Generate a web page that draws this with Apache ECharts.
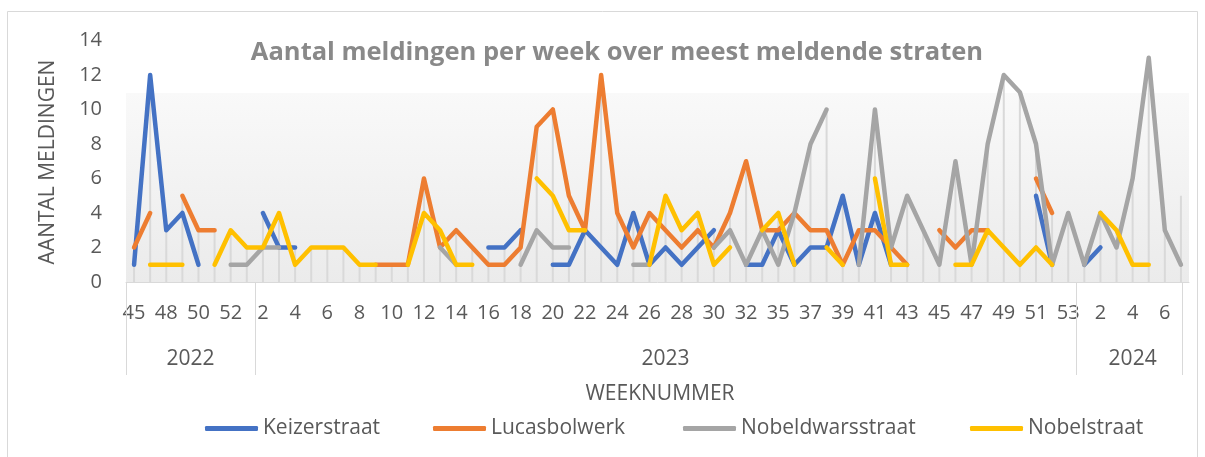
<!DOCTYPE html>
<html>
<head>
<meta charset="utf-8">
<script src="https://cdn.jsdelivr.net/npm/echarts@6/dist/echarts.min.js"></script>
<style>
html,body{margin:0;padding:0;background:#fff;}
#chart{width:1205px;height:457px;}
</style>
</head>
<body>
<div id="chart"></div>
<script>
// ---- data ----
const years = ['2022', '2023', '2024'];
const weeks2022 = [45, 46, 48, 49, 50, 51, 52, 53];
const weeks2023 = [2, 3, 4, 5, 6, 7, 8, 9, 10, 11, 12, 13, 14, 15, 16, 17, 18, 19, 20, 21, 22, 23, 24, 25, 26, 27, 28, 29, 30, 31, 32,
  33, 35, 36, 37, 38, 39, 40, 41, 42, 43, 44, 45, 46, 47, 48, 49, 50, 51, 52, 53];
const weeks2024 = [1, 2, 3, 4, 5, 6, 7];

const seriesNames = ['Keizerstraat', 'Lucasbolwerk', 'Nobeldwarsstraat', 'Nobelstraat'];

const keizerstraat = [1, 12, 3, 4, 1, null, null, null,
  4, 2, 2, null, null, null, null, null, null, null, null, null, null, null, 2, 2, 3, null, 1, 1, 3, 2, 1,
  4, 1, 2, 1, 2, 3, null, 1, 1, 3, 1, 2, 2, 5, 1, 4, 1, null, null, null, null, null, null, null, null, 5, 1, null,
  1, 2, null, null, null, null, 5];

const lucasbolwerk = [2, 4, null, 5, 3, 3, null, null,
  null, null, null, null, null, null, null, 1, 1, 1, 6, 2, 3, 2, 1, 1, 2, 9, 10, 5, 3, 12, 4,
  2, 4, 3, 2, 3, 2, 4, 7, 3, 3, 4, 3, 3, 1, 3, 3, 2, 1, null, 3, 2, 3, 3, null, null, 6, 4, null,
  null, null, null, null, null, null, null];

const nobeldwarsstraat = [null, null, null, null, null, null, 1, 1,
  2, 2, null, null, null, null, null, null, null, null, null, 2, 1, null, null, null, 1, 3, 2, 2, null, null, null,
  1, 1, null, null, null, 2, 3, 1, 3, 1, 4, 8, 10, null, 1, 10, 2, 5, 3, 1, 7, 1, 8, 12, 11, 8, 1, 4,
  1, 4, 2, 6, 13, 3, 1];

const nobelstraat = [null, 1, 1, 1, null, 1, 3, 2,
  2, 4, 1, 2, 2, 2, 1, 1, null, 1, 4, 3, 1, 1, null, null, null, 6, 5, 3, 3, null, null,
  null, 1, 5, 3, 4, 1, 2, null, 3, 4, 1, null, 2, 1, null, 6, 1, 1, null, null, 1, 1, 3, 2, 1, 2, 1, null,
  null, 4, 3, 1, 1, null, null];

const yTicks = [0, 2, 4, 6, 8, 10, 12, 14];
const titleText = 'Aantal meldingen per week over meest meldende straten';
const yName = 'AANTAL MELDINGEN';
const xName = 'WEEKNUMMER';

// ---- build ----
const groups = [
  { year: years[0], weeks: weeks2022 },
  { year: years[1], weeks: weeks2023 },
  { year: years[2], weeks: weeks2024 }
];
const categories = [];
groups.forEach(g => g.weeks.forEach(w => categories.push(g.year + '-' + w)));

const seriesData = [keizerstraat, lucasbolwerk, nobeldwarsstraat, nobelstraat];
const colors = ['#4472C4', '#ED7D31', '#A5A5A5', '#FFC000'];
const dropData = categories.map((c, i) => {
  const vals = seriesData.map(s => s[i]).filter(v => v !== null && v !== undefined);
  return vals.length ? Math.max.apply(null, vals) : null;
});

const FONT = 'Open Sans';
const TXT = '#595959';

const chart = echarts.init(document.getElementById('chart'), null, { renderer: 'canvas' });

const legendLefts = [205, 433, 683, 970];

const option = {
  animation: false,
  backgroundColor: '#ffffff',
  textStyle: { fontFamily: FONT },
  title: {
    text: titleText,
    left: 612,
    top: 35,
    textAlign: 'center',
    textStyle: { fontFamily: FONT, fontWeight: 'bold', fontSize: 25.5, color: '#898989' }
  },
  grid: {
    left: 126, right: 16, top: 40.5, bottom: 175,
    show: true, borderWidth: 0,
    backgroundColor: {
      type: 'linear', x: 0, y: 0, x2: 0, y2: 1,
      colorStops: [
        { offset: 0, color: '#ffffff' },
        { offset: 0.217, color: '#ffffff' },
        { offset: 0.217, color: '#f9f9f9' },
        { offset: 1, color: '#ebebeb' }
      ]
    }
  },
  legend: seriesNames.map((n, i) => ({
    data: [n],
    left: legendLefts[i],
    top: 418,
    padding: 0,
    icon: 'roundRect',
    itemWidth: 53,
    itemHeight: 5,
    selectedMode: false,
    textStyle: { fontFamily: FONT, fontSize: 21, color: TXT }
  })),
  xAxis: {
    type: 'category',
    data: categories,
    boundaryGap: true,
    axisLine: { show: true, lineStyle: { color: '#d9d9d9', width: 1 } },
    axisTick: { show: false },
    splitLine: { show: false },
    axisLabel: {
      interval: 1,
      formatter: v => v.split('-')[1],
      fontFamily: FONT, fontSize: 20, color: TXT, margin: 21
    }
  },
  yAxis: {
    type: 'value',
    min: yTicks[0], max: yTicks[yTicks.length - 1], interval: 2,
    axisLine: { show: false },
    axisTick: { show: false },
    splitLine: { show: false },
    axisLabel: { fontFamily: FONT, fontSize: 20, color: TXT, margin: 24 }
  },
  series: [
    {
      name: 'drop',
      type: 'bar',
      data: dropData,
      barWidth: 2,
      silent: true,
      itemStyle: { color: '#d9d9d9' }
    }
  ].concat(seriesNames.map((n, i) => ({
    name: n,
    type: 'line',
    data: seriesData[i],
    showSymbol: false,
    symbol: 'none',
    connectNulls: false,
    color: colors[i],
    lineStyle: { color: colors[i], width: 4.5, cap: 'round', join: 'round' }
  })))
};

chart.setOption(option);

// group (year) boxes and axis names
const px = i => chart.convertToPixel({ xAxisIndex: 0 }, categories[i]);
const y0 = chart.convertToPixel({ yAxisIndex: 0 }, 0);
const bw = (px(categories.length - 1) - px(0)) / (categories.length - 1);
const graphics = [];
graphics.push({
  type: 'rect', z: 100, silent: true,
  shape: { x: 7.5, y: 11.5, width: 1190, height: 460 },
  style: { fill: null, stroke: '#d9d9d9', lineWidth: 1 }
});
let start = 0;
const bounds = [px(0) - bw / 2];
groups.forEach((g, gi) => {
  const end = start + g.weeks.length - 1;
  const rightEdge = gi < groups.length - 1 ? (px(end) + px(end + 1)) / 2 : px(end) + bw / 2;
  const leftEdge = bounds[bounds.length - 1];
  bounds.push(rightEdge);
  graphics.push({
    type: 'text', z: 100, silent: true,
    x: (leftEdge + rightEdge) / 2, y: y0 + 77,
    style: { text: g.year, font: '21px "' + FONT + '"', fill: TXT, textAlign: 'center', textVerticalAlign: 'middle' }
  });
  start = end + 1;
});
bounds.forEach((b, bi) => {
  const xx = Math.round(bi === bounds.length - 1 ? b - bw / 2 + 1 : b) + 0.5;
  graphics.push({
    type: 'line', z: 100, silent: true,
    shape: { x1: xx, y1: y0, x2: xx, y2: y0 + 93 },
    style: { stroke: '#d9d9d9', lineWidth: 1 }
  });
});
graphics.push({
  type: 'text', z: 100, silent: true,
  x: 48, y: 162, rotation: Math.PI / 2,
  style: { text: yName, font: '21px "' + FONT + '"', fill: TXT, textAlign: 'center', textVerticalAlign: 'middle' }
});
graphics.push({
  type: 'text', z: 100, silent: true,
  x: 660, y: 394,
  style: { text: xName, font: '21px "' + FONT + '"', fill: TXT, textAlign: 'center', textVerticalAlign: 'middle' }
});
chart.setOption({ graphic: graphics });
</script>
</body>
</html>
